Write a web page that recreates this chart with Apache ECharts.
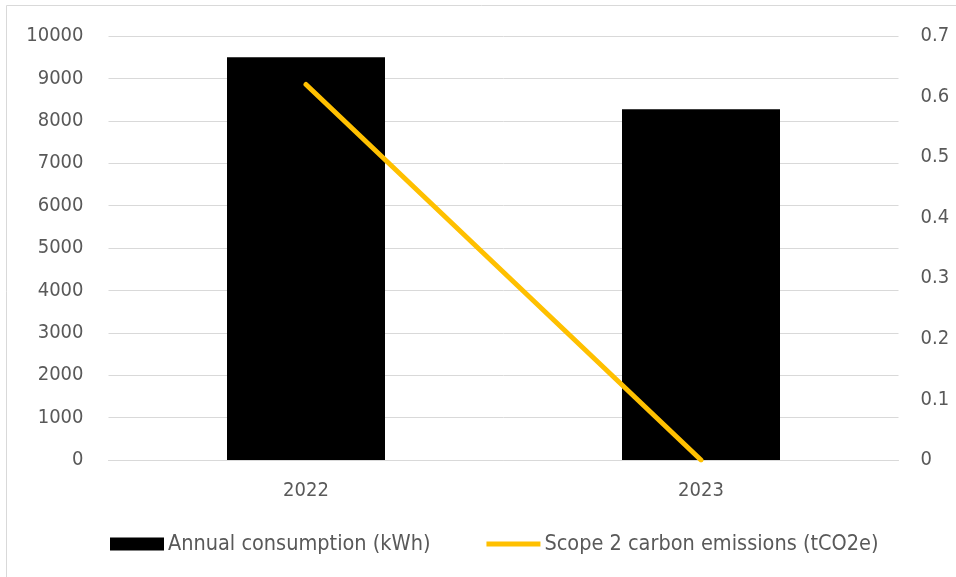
<!DOCTYPE html>
<html>
<head>
<meta charset="utf-8">
<script src="https://cdn.jsdelivr.net/npm/echarts@6/dist/echarts.min.js"></script>
<style>
  html, body { margin: 0; padding: 0; background: #fff; }
  #chart { width: 956px; height: 577px; }
</style>
</head>
<body>
<div id="chart"></div>
<script>
// Annual electricity use and the matching Scope 2 emissions
const years = ['2022', '2023'];
const consumptionKWh = [9500, 8270];
const scope2Emissions = [0.62, 0];
const leftTicks = { min: 0, max: 10000, interval: 1000 };
const rightTicks = { min: 0, max: 0.7, interval: 0.1 };

const FONT = '"DejaVu Sans Condensed", "Liberation Sans", sans-serif';
const TEXT = '#595959';

const chart = echarts.init(document.getElementById('chart'));
chart.setOption({
  animation: false,
  textStyle: { fontFamily: FONT },
  graphic: [{
    type: 'rect',
    shape: { x: 6.5, y: 5.5, width: 980, height: 620 },
    style: { fill: 'none', stroke: '#d9d9d9', lineWidth: 1 },
    silent: true
  }],
  grid: { left: 108.5, right: 57.5, top: 36, bottom: 117, containLabel: false },
  legend: {
    bottom: 17,
    left: 105,
    itemGap: 56,
    itemWidth: 54,
    itemHeight: 13,
    textStyle: { color: TEXT, fontSize: 21.5, fontFamily: FONT, padding: [0, 0, 0, -1] },
    data: [
      { name: 'Annual consumption (kWh)', icon: 'rect' },
      { name: 'Scope 2 carbon emissions (tCO2e)', icon: 'path://M0,0 L54,0 L54,5 L0,5 Z' }
    ]
  },
  xAxis: {
    type: 'category',
    data: years,
    axisLine: { show: true, lineStyle: { color: '#d9d9d9', width: 1 } },
    axisTick: { show: false },
    axisLabel: { color: TEXT, fontSize: 20, fontFamily: FONT, margin: 21 }
  },
  yAxis: [
    {
      type: 'value',
      min: leftTicks.min, max: leftTicks.max, interval: leftTicks.interval,
      axisLine: { show: false },
      axisTick: { show: false },
      splitLine: { lineStyle: { color: '#d9d9d9', width: 1 } },
      axisLabel: {
        color: TEXT, fontSize: 20, fontFamily: FONT, margin: 25,
        formatter: v => String(v)
      }
    },
    {
      type: 'value',
      min: rightTicks.min, max: rightTicks.max, interval: rightTicks.interval,
      axisLine: { show: false },
      axisTick: { show: false },
      splitLine: { show: false },
      axisLabel: {
        color: TEXT, fontSize: 20, fontFamily: FONT, margin: 22,
        formatter: v => String(Math.round(v * 10) / 10)
      }
    }
  ],
  series: [
    {
      name: 'Annual consumption (kWh)',
      type: 'bar',
      data: consumptionKWh,
      barCategoryGap: '60%',
      itemStyle: { color: '#000000' }
    },
    {
      name: 'Scope 2 carbon emissions (tCO2e)',
      type: 'line',
      yAxisIndex: 1,
      data: scope2Emissions,
      symbol: 'none',
      lineStyle: { color: '#ffc000', width: 5, cap: 'round' },
      itemStyle: { color: '#ffc000' }
    }
  ]
});
</script>
</body>
</html>
